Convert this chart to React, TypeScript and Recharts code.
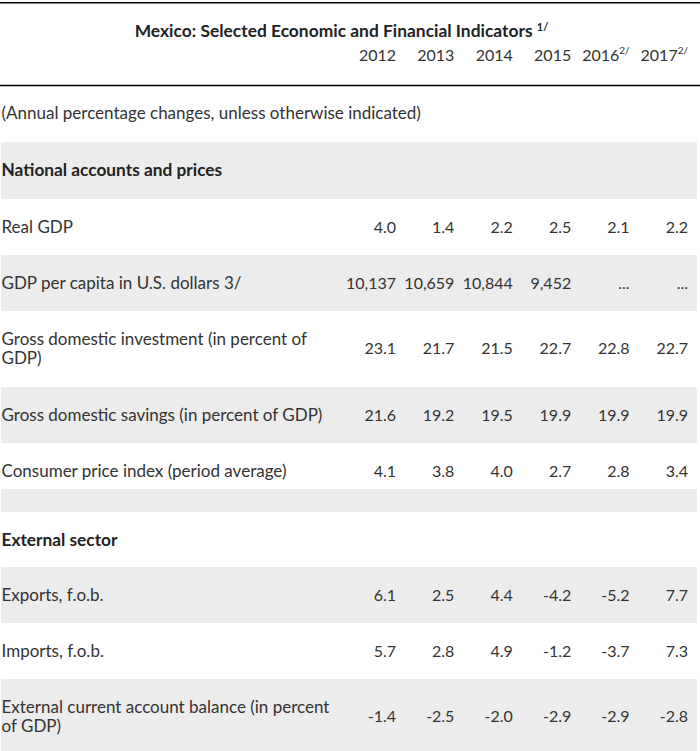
import { ComposedChart, Scatter, XAxis, YAxis, ReferenceArea, ReferenceLine } from "recharts";

document.body.style.margin = "0";

const title = "Mexico: Selected Economic and Financial Indicators";
const titleNote = "1/";

const years = ["2012", "2013", "2014", "2015", "2016", "2017"];
const yearNotes = ["", "", "", "", "2/", "2/"];

const rowLabels = [
  "(Annual percentage changes, unless otherwise indicated)",
  "National accounts and prices",
  "Real GDP",
  "GDP per capita in U.S. dollars 3/",
  "Gross domestic investment (in percent of\nGDP)",
  "Gross domestic savings (in percent of GDP)",
  "Consumer price index (period average)",
  "",
  "External sector",
  "Exports, f.o.b.",
  "Imports, f.o.b.",
  "External current account balance (in percent\nof GDP)",
];
const sectionRows = [1, 8];

// null = empty cell, "..." = not available
const v2012 = [null, null, 4.0, 10137, 23.1, 21.6, 4.1, null, null, 6.1, 5.7, -1.4];
const v2013 = [null, null, 1.4, 10659, 21.7, 19.2, 3.8, null, null, 2.5, 2.8, -2.5];
const v2014 = [null, null, 2.2, 10844, 21.5, 19.5, 4.0, null, null, 4.4, 4.9, -2.0];
const v2015 = [null, null, 2.5, 9452, 22.7, 19.9, 2.7, null, null, -4.2, -1.2, -2.9];
const v2016 = [null, null, 2.1, "...", 22.8, 19.9, 2.8, null, null, -5.2, -3.7, -2.9];
const v2017 = [null, null, 2.2, "...", 22.7, 19.9, 3.4, null, null, 7.7, 7.3, -2.8];
const seriesValues = [v2012, v2013, v2014, v2015, v2016, v2017];

// layout
const HEADER_H = 85;
const ROW_H = [57, 57, 56, 56, 76, 56, 46, 23, 55, 56, 56, 72];
const YEAR_Y = 55;
const LINE_GAP = 19;
const X_MIN = -6.781;
const X_MAX = 5.205;
const LABEL_X = -6.755;
const BAND_X1 = -6.764;
const BAND_X2 = 5.154;
const FONT = "Lato, 'Noto Sans', sans-serif";
const TEXT = "#333";
const GRAY = "#ececec";

const fmt = (v: number | string) =>
  typeof v === "string" ? v : Math.abs(v) >= 1000 ? v.toLocaleString("en-US") : v.toFixed(1);

let top = HEADER_H;
const rows = rowLabels.map((label, i) => {
  const lines = label ? label.split("\n") : [];
  const r = {
    i,
    lines,
    top,
    bottom: top + ROW_H[i],
    center: top + 28 + (Math.max(lines.length, 1) - 1) * (LINE_GAP / 2),
    bold: sectionRows.includes(i),
  };
  top += ROW_H[i];
  return r;
});
const TOTAL_H = top;

const labelCells = rows
  .filter((r) => r.lines.length)
  .map((r) => ({ x: LABEL_X, y: r.center, lines: r.lines, bold: r.bold }));

const headerCells = years.map((y, k) => ({ x: k, y: YEAR_Y, text: y, note: yearNotes[k] }));

const valueCells = seriesValues.map((vals, k) =>
  rows
    .filter((r) => vals[r.i] !== null)
    .map((r) => ({ x: k, y: r.center, text: fmt(vals[r.i] as number | string) }))
);

const renderLabel = (p: any) => {
  const { cx, cy, payload } = p;
  const n = payload.lines.length;
  return (
    <text
      x={cx}
      y={cy}
      fontFamily={FONT}
      fontSize={payload.bold ? 17.3 : 17}
      fontWeight={payload.bold ? 700 : 400}
      fill={payload.bold ? "#222" : TEXT}
      textAnchor="start"
    >
      {payload.lines.map((l: string, j: number) => (
        <tspan key={j} x={cx} y={cy + (j - (n - 1) / 2) * LINE_GAP} dy="0.35em">
          {l}
        </tspan>
      ))}
    </text>
  );
};

const renderValue = (p: any) => (
  <text x={p.cx} y={p.cy} dy="0.35em" fontFamily={FONT} fontSize={16} fill={TEXT} textAnchor="end">
    {p.payload.text}
  </text>
);

const renderHeader = (p: any) => (
  <text x={p.cx} y={p.cy} dy="0.35em" fontFamily={FONT} fontSize={16} fill={TEXT} textAnchor="end">
    {p.payload.text}
    {p.payload.note ? (
      <tspan dy={-7} fontSize={10}>
        {p.payload.note}
      </tspan>
    ) : null}
  </text>
);

export default function App() {
  return (
    <div style={{ position: "relative", width: 700, height: 751, background: "#fff" }}>
      <ComposedChart width={700} height={751} margin={{ top: 0, right: 0, bottom: 0, left: 0 }}>
        <XAxis type="number" dataKey="x" domain={[X_MIN, X_MAX]} hide allowDataOverflow />
        <YAxis type="number" dataKey="y" domain={[0, TOTAL_H]} reversed hide allowDataOverflow />
        {rows
          .filter((r) => r.i % 2 === 1)
          .map((r) => (
            <ReferenceArea
              key={r.i}
              x1={BAND_X1}
              x2={BAND_X2}
              y1={r.top}
              y2={r.bottom}
              fill={GRAY}
              fillOpacity={1}
              stroke="none"
            />
          ))}
        <ReferenceLine y={2.8} stroke="#000" strokeWidth={1.5} />
        <ReferenceLine y={HEADER_H + 0.6} stroke="#000" strokeWidth={1.5} />
        <Scatter data={labelCells} shape={renderLabel} isAnimationActive={false} />
        <Scatter data={headerCells} shape={renderHeader} isAnimationActive={false} />
        {valueCells.map((cells, k) => (
          <Scatter key={years[k]} data={cells} shape={renderValue} isAnimationActive={false} />
        ))}
      </ComposedChart>
      <div
        style={{
          position: "absolute",
          top: 21,
          left: 0,
          width: 683,
          height: 20,
          lineHeight: "20px",
          textAlign: "center",
          fontFamily: FONT,
          fontSize: 17.4,
          fontWeight: 700,
          color: "#222",
          whiteSpace: "nowrap",
        }}
      >
        {title} <span style={{ position: "relative", top: -6, fontSize: 11 }}>{titleNote}</span>
      </div>
    </div>
  );
}
